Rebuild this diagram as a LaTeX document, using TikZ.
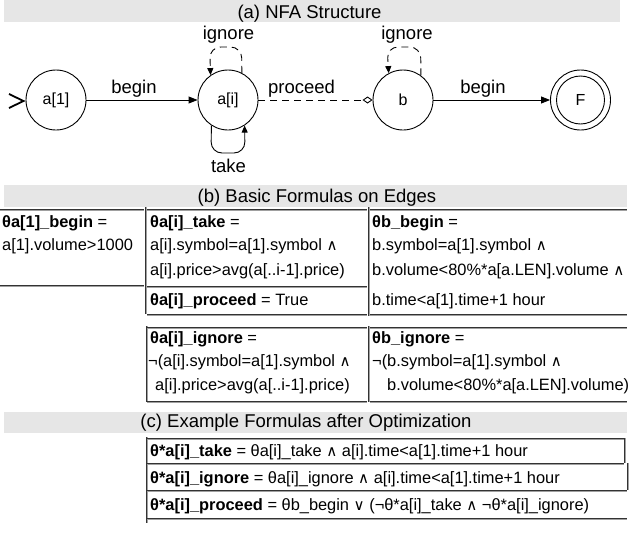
\documentclass[tikz,border=0pt]{standalone}
\usepackage{fontspec}
\setmainfont{Liberation Sans}
\newfontfamily\symf{DejaVu Sans}[Scale=0.92]
\usetikzlibrary{arrows.meta}
\newcommand\andop{{\symf ∧}}
\newcommand\orop{{\symf ∨}}
\definecolor{barcol}{HTML}{E6E6E6}
\definecolor{rdark}{HTML}{333333}
\definecolor{rlight}{HTML}{A0A0A0}
\newcommand\myhr[3]{\draw[rdk] (#1,#3)--(#2,#3); \draw[rlt] (#1,#3+1.3)--(#2,#3+1.3);}
\newcommand\myvr[3]{\draw[rdk] (#1,#2)--(#1,#3); \draw[rlt] (#1+1.3,#2)--(#1+1.3,#3);}
\begin{document}
\begin{tikzpicture}[x=1pt,y=-1pt,
  state/.style={circle, draw, line width=0.9pt, minimum size=60pt, inner sep=0pt, font=\fontsize{16}{18}\selectfont},
  lbl/.style={font=\fontsize{18.5}{20}\selectfont, inner sep=0pt, anchor=base},
  txt/.style={font=\fontsize{16.4}{19}\selectfont, inner sep=0pt, anchor=base west},
  ttl/.style={font=\fontsize{18.5}{20}\selectfont, inner sep=0pt, anchor=base},
  bar/.style={fill=barcol, draw=none},
  rdk/.style={draw=rdark, line width=0.9pt},
  rlt/.style={draw=rlight, line width=0.9pt},
  edge/.style={line width=0.9pt, -{Triangle[length=9pt,width=7pt]}},
  loopedge/.style={line width=0.9pt, -{Triangle[length=7pt,width=6pt]}, rounded corners=11pt},
  dsh/.style={dash pattern=on 7pt off 5pt}]
\useasboundingbox (0,0) rectangle (629,533);

% ---------- (a) NFA structure ----------
\fill[bar] (4,0) rectangle (620,22);
\node[ttl] (ta) at (309.5,18) {(a) NFA Structure};

\node[state] (a1) at (56,100) {a[1]};
\node[state] (ai) at (228,100) {a[i]};
\node[state] (b) at (403,100) {b};
\node[state] (F) at (580.5,100) {F};
\draw[line width=0.9pt] (F.center) circle[radius=24pt];

\draw[line width=1.8pt, line join=miter] (9,94) -- (23.5,101) -- (9,108);

\draw[edge] (a1) -- (ai);
\node[lbl] (l1) at (134,93.5) {begin};
\draw[line width=0.9pt, dsh, -{Diamond[open,length=10pt,width=7pt]}] (ai) -- (b);
\node[lbl] (l2) at (301.5,93.5) {proceed};
\draw[edge] (b) -- (F);
\node[lbl] (l3) at (483,93.5) {begin};

\draw[loopedge, dsh] (ai.63) -- (241.7,47) -- (209.7,47) -- (ai.125);
\node[lbl] (l4) at (228.5,39.5) {ignore};
\draw[loopedge] (ai.-123) -- (211,153) -- (245,153) -- (ai.-57);
\node[lbl] (l5) at (228.5,172.5) {take};
\draw[loopedge, dsh] (b.54) -- (420.7,47) -- (387,47) -- (b.118);
\node[lbl] (l6) at (407,39.5) {ignore};

% ---------- (b) basic formulas ----------
\fill[bar] (4,185) rectangle (627,207);
\node[ttl] (tb) at (317,202) {(b) Basic Formulas on Edges};

\myhr{0}{144}{209}
\myhr{0}{144}{285}
\myvr{145}{207}{314}
\myhr{147}{367}{209}
\myhr{147}{367}{286}
\myhr{147}{367}{314}
\myvr{368}{207}{316}
\myhr{370}{627}{209}
\myhr{370}{627}{314}

\node[txt] (c1a) at (2,227) {\textbf{θa[1]\_begin} =};
\node[txt] (c1b) at (2,250.5) {a[1].volume>1000};

\node[txt] (c2a) at (150,227) {\textbf{θa[i]\_take} =};
\node[txt] (c2b) at (150,250.5) {a[i].symbol=a[1].symbol \andop};
\node[txt] (c2c) at (150,275) {a[i].price>avg(a[..i-1].price)};
\node[txt] (c2d) at (150,305) {\textbf{θa[i]\_proceed} = True};

\node[txt] (c3a) at (372,227) {\textbf{θb\_begin} =};
\node[txt] (c3b) at (372,250.5) {b.symbol=a[1].symbol \andop};
\node[txt] (c3c) at (372,275) {b.volume<80\%*a[a.LEN].volume \andop};
\node[txt] (c3d) at (372,305) {b.time<a[1].time+1 hour};

\myvr{146}{326}{402}
\myhr{147}{367}{327}
\myhr{147}{367}{401}
\myvr{368}{326}{402}
\myhr{370}{627}{327}
\myhr{370}{627}{401}

\node[txt] (c4a) at (150,343) {\textbf{θa[i]\_ignore} =};
\node[txt] (c4b) at (148,366) {¬(a[i].symbol=a[1].symbol \andop};
\node[txt] (c4c) at (155,390) {a[i].price>avg(a[..i-1].price)};

\node[txt] (c5a) at (372,343) {\textbf{θb\_ignore} =};
\node[txt] (c5b) at (372,366) {¬(b.symbol=a[1].symbol \andop};
\node[txt] (c5c) at (387,390) {b.volume<80\%*a[a.LEN].volume)};

% ---------- (c) optimized formulas ----------
\fill[bar] (4,412) rectangle (627,433);
\node[ttl] (tc) at (306,427) {(c) Example Formulas after Optimization};

\myvr{146}{437}{523}
\myhr{147}{624}{438}
\myvr{624}{438}{463}
\myhr{147}{624}{463}
\myvr{627}{463}{490}
\myhr{147}{627}{490}
\myhr{147}{627}{518}

\node[txt] (d1) at (150,456) {\textbf{θ*a[i]\_take} = θa[i]\_take \andop{} a[i].time<a[1].time+1 hour};
\node[txt] (d2) at (150,483) {\textbf{θ*a[i]\_ignore} = θa[i]\_ignore \andop{} a[i].time<a[1].time+1 hour};
\node[txt] (d3) at (150,510) {\textbf{θ*a[i]\_proceed} = θb\_begin \orop{} (¬θ*a[i]\_take \andop{} ¬θ*a[i]\_ignore)};
\end{tikzpicture}
\end{document}
